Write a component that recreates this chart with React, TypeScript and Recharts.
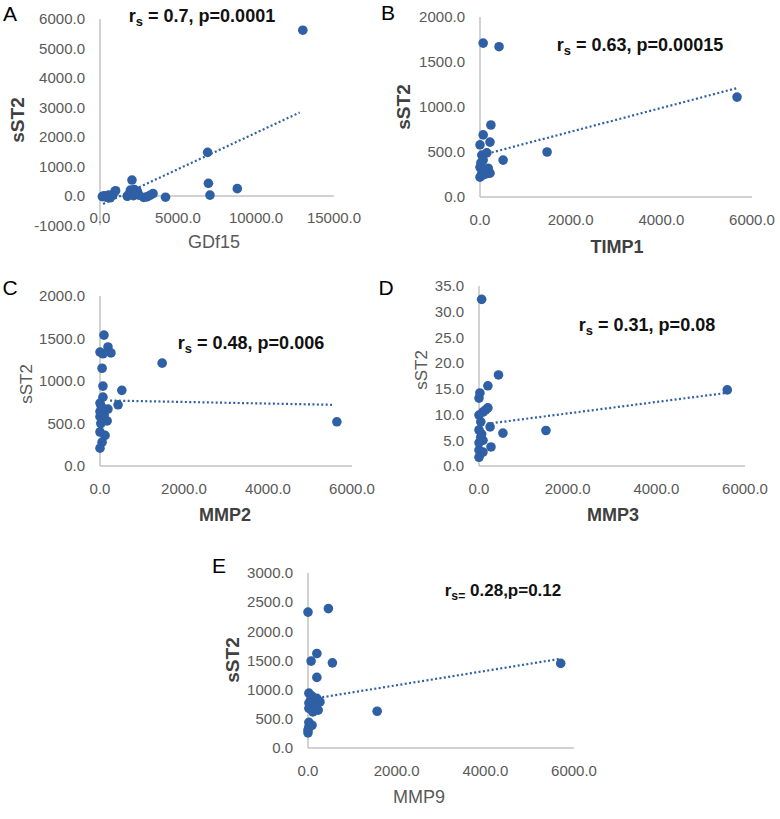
import { ScatterChart, Scatter, XAxis, YAxis, ReferenceLine } from "recharts"

const BLUE = "#2f5fa4"
const AXIS = "#c3c3c3"
const TICK = "#595959"
const FONT = "'Liberation Sans', Arial, sans-serif"

// A: GDf15 vs sST2
const gdfX = [150, 250, 400, 550, 650, 800, 950, 1000, 1750, 1850, 1950, 2050, 2100, 2150, 2200, 2300, 2400, 2500, 2800, 3000, 3200, 3400, 4200, 6900, 6950, 7050, 8800, 13000]
const gdfY = [-20, 10, -40, 30, -60, 20, 150, 180, -10, 60, 200, 540, 120, 10, 220, 60, 160, 30, -50, -30, 20, 80, -40, 1480, 430, 30, 250, 5620]
const gdfTrendX = [200, 12800]
const gdfTrendY = [-270, 2830]

// B: TIMP1 vs sST2
const timpX = [70, 420, 240, 70, 220, 0, 1480, 510, 40, 150, 70, 0, 180, 40, 0, 70, 150, 220, 20, 100, 5670]
const timpY = [1710, 1670, 800, 690, 610, 580, 500, 410, 466, 490, 410, 330, 320, 265, 220, 245, 260, 265, 380, 300, 1110]
const timpTrendX = [70, 5670]
const timpTrendY = [470, 1210]

// C: MMP2 vs sST2
const mmp2X = [95, 190, 0, 70, 260, 50, 70, 520, 70, 0, 430, 190, 0, 0, 170, 20, 0, 120, 50, 0, 1480, 5640, 30, 100]
const mmp2Y = [1540, 1400, 1340, 1320, 1330, 1150, 940, 890, 810, 740, 720, 670, 640, 580, 530, 500, 400, 360, 280, 210, 1210, 520, 700, 600]
const mmp2TrendX = [240, 5550]
const mmp2TrendY = [770, 720]

// D: MMP3 vs sST2
const mmp3X = [60, 440, 200, 20, 0, 200, 90, 0, 40, 250, 540, 1510, 0, 40, 90, 270, 90, 0, 0, 0, 5600, 150, 60]
const mmp3Y = [32.4, 17.7, 15.6, 14.2, 13.2, 11.3, 10.5, 9.9, 8.6, 7.6, 6.4, 6.9, 7.0, 5.6, 5.0, 3.7, 2.7, 1.7, 4.5, 3.1, 14.8, 10.9, 6.2]
const mmp3TrendX = [180, 5580]
const mmp3TrendY = [8.2, 14.2]

// E: MMP9 vs sST2
const mmp9X = [0, 460, 200, 70, 550, 200, 20, 90, 200, 270, 20, 110, 20, 230, 110, 1560, 20, 90, 20, 0, 0, 5700, 160, 60]
const mmp9Y = [2330, 2390, 1620, 1490, 1460, 1210, 940, 890, 850, 790, 770, 700, 680, 650, 620, 630, 440, 390, 360, 260, 310, 1450, 760, 830]
const mmp9TrendX = [320, 5700]
const mmp9TrendY = [870, 1530]

const zip = (xs: number[], ys: number[]) => xs.map((x, i) => ({ x, y: ys[i] }))

interface PanelProps {
  xs: number[]
  ys: number[]
  trendX: number[]
  trendY: number[]
  xDomain: [number, number]
  xTicks: number[]
  yDomain: [number, number]
  yTicks: number[]
  // plot rectangle in page pixels
  left: number
  top: number
  right: number
  bottom: number
  xTickOffset?: number
  zeroLine?: boolean
}

const YW = 90
const XH = 40
const PAD = 12
const PAD_R = 40

function Panel({
  xs, ys, trendX, trendY, xDomain, xTicks, yDomain, yTicks,
  left, top, right, bottom, xTickOffset = 23, zeroLine = false,
}: PanelProps) {
  const w = right - left + YW + PAD_R
  const h = bottom - top + PAD + XH
  return (
    <div style={{ position: "absolute", left: left - YW, top: top - PAD, width: w, height: h }}>
      <ScatterChart width={w} height={h} margin={{ top: PAD, right: PAD_R, bottom: 0, left: 0 }}>
        <XAxis
          type="number"
          dataKey="x"
          domain={xDomain}
          ticks={xTicks}
          interval={0}
          height={XH}
          axisLine={zeroLine ? false : { stroke: AXIS, strokeWidth: 1.5 }}
          tickLine={false}
          tickSize={0}
          tickMargin={0}
          tick={(p: any) => (
            <text x={p.x} y={p.y + xTickOffset} dy="0.35em" textAnchor="middle" fill={TICK} fontSize={15} fontFamily={FONT}>
              {Number(p.payload.value).toFixed(1)}
            </text>
          )}
        />
        <YAxis
          type="number"
          dataKey="y"
          domain={yDomain}
          ticks={yTicks}
          interval={0}
          width={YW}
          axisLine={{ stroke: AXIS, strokeWidth: 1.5 }}
          tickLine={false}
          tickSize={0}
          tickMargin={0}
          tick={(p: any) => (
            <text x={p.x - 15} y={p.y} dy="0.35em" textAnchor="end" fill={TICK} fontSize={15} fontFamily={FONT}>
              {Number(p.payload.value).toFixed(1)}
            </text>
          )}
        />
        {zeroLine && <ReferenceLine y={0} stroke={AXIS} strokeWidth={1.5} />}
        <Scatter
          data={zip(xs, ys)}
          isAnimationActive={false}
          shape={(p: any) => <circle cx={p.cx} cy={p.cy} r={4.8} fill={BLUE} />}
        />
        <Scatter
          data={zip(trendX, trendY)}
          isAnimationActive={false}
          line={{ stroke: BLUE, strokeWidth: 2.2, strokeDasharray: "2 2.4" }}
          shape={() => <g />}
        />
      </ScatterChart>
    </div>
  )
}

function Txt({ x, y, size, bold, color = "#404040", rotate, children }: any) {
  return (
    <div
      style={{
        position: "absolute",
        left: x,
        top: y,
        transform: `translate(-50%, -50%)${rotate ? " rotate(-90deg)" : ""}`,
        fontFamily: FONT,
        fontSize: size,
        fontWeight: bold ? 700 : 400,
        color,
        whiteSpace: "nowrap",
        lineHeight: 1,
      }}
    >
      {children}
    </div>
  )
}

const Sub = ({ children }: any) => (
  <span style={{ fontSize: "0.72em", verticalAlign: "-0.3em" }}>{children}</span>
)

export default function App() {
  return (
    <div style={{ position: "absolute", left: 0, top: 0, width: 780, height: 819, background: "#fff", overflow: "hidden" }}>
      <Panel
        xs={gdfX} ys={gdfY} trendX={gdfTrendX} trendY={gdfTrendY}
        xDomain={[0, 15000]} xTicks={[0, 5000, 10000, 15000]}
        yDomain={[-1000, 6000]} yTicks={[-1000, 0, 1000, 2000, 3000, 4000, 5000, 6000]}
        left={100} top={19} right={334} bottom={225.5} xTickOffset={-7.5} zeroLine
      />
      <Panel
        xs={timpX} ys={timpY} trendX={timpTrendX} trendY={timpTrendY}
        xDomain={[0, 6000]} xTicks={[0, 2000, 4000, 6000]}
        yDomain={[0, 2000]} yTicks={[0, 500, 1000, 1500, 2000]}
        left={480} top={17} right={752} bottom={197}
      />
      <Panel
        xs={mmp2X} ys={mmp2Y} trendX={mmp2TrendX} trendY={mmp2TrendY}
        xDomain={[0, 6000]} xTicks={[0, 2000, 4000, 6000]}
        yDomain={[0, 2000]} yTicks={[0, 500, 1000, 1500, 2000]}
        left={100} top={296} right={352} bottom={466}
      />
      <Panel
        xs={mmp3X} ys={mmp3Y} trendX={mmp3TrendX} trendY={mmp3TrendY}
        xDomain={[0, 6000]} xTicks={[0, 2000, 4000, 6000]}
        yDomain={[0, 35]} yTicks={[0, 5, 10, 15, 20, 25, 30, 35]}
        left={479} top={286} right={745} bottom={466}
      />
      <Panel
        xs={mmp9X} ys={mmp9Y} trendX={mmp9TrendX} trendY={mmp9TrendY}
        xDomain={[0, 6000]} xTicks={[0, 2000, 4000, 6000]}
        yDomain={[0, 3000]} yTicks={[0, 500, 1000, 1500, 2000, 2500, 3000]}
        left={308} top={573} right={574} bottom={748}
      />

      {/* panel letters */}
      <Txt x={10} y={13} size={21} color="#000">A</Txt>
      <Txt x={388} y={12} size={21} color="#000">B</Txt>
      <Txt x={10} y={287} size={21} color="#000">C</Txt>
      <Txt x={386} y={287} size={21} color="#000">D</Txt>
      <Txt x={219} y={565} size={21} color="#000">E</Txt>

      {/* correlation annotations */}
      <Txt x={202} y={18} size={18} bold color="#111">r<Sub>s</Sub> = 0.7, p=0.0001</Txt>
      <Txt x={640} y={47} size={18} bold color="#111">r<Sub>s</Sub> = 0.63, p=0.00015</Txt>
      <Txt x={251} y={345} size={18} bold color="#111">r<Sub>s</Sub> = 0.48, p=0.006</Txt>
      <Txt x={647} y={327} size={18} bold color="#111">r<Sub>s</Sub> = 0.31, p=0.08</Txt>
      <Txt x={503} y={592} size={17} bold color="#111">r<Sub>s=</Sub> 0.28,p=0.12</Txt>

      {/* y axis titles */}
      <Txt x={17} y={120} size={19} bold rotate>sST2</Txt>
      <Txt x={403} y={107} size={19} bold rotate>sST2</Txt>
      <Txt x={26} y={384} size={17} color="#595959" rotate>sST2</Txt>
      <Txt x={421} y={370} size={17} color="#595959" rotate>sST2</Txt>
      <Txt x={232} y={660} size={19} bold rotate>sST2</Txt>

      {/* x axis titles */}
      <Txt x={214} y={242} size={18} color="#595959">GDf15</Txt>
      <Txt x={617} y={247} size={18} bold>TIMP1</Txt>
      <Txt x={225} y={515} size={18} bold>MMP2</Txt>
      <Txt x={613} y={515} size={18} bold>MMP3</Txt>
      <Txt x={419} y={797} size={18} color="#595959">MMP9</Txt>
    </div>
  )
}
